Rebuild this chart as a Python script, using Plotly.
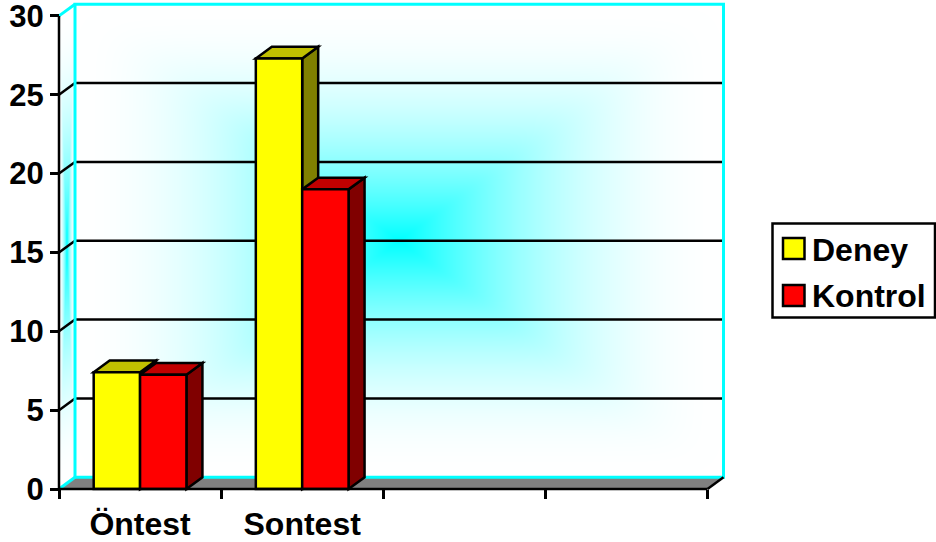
import base64
import struct
import zlib

import numpy as np
import plotly.graph_objects as go

# Chart data
categories = ["Öntest", "Sontest", " ", "  "]
deney = [7.4, 27.3]
kontrol = [7.25, 19.0]
y_ticks = [0, 5, 10, 15, 20, 25, 30]

# Page geometry (pixels)
W, H = 936, 542
PLOT_L, PLOT_R, PLOT_T, PLOT_B = 55, 728, 1, 493
FRONT_L, FRONT_B = 59, 489
CAT_PX = 162.125
UNIT_PX = 15.77
DEPTH_X_PX, DEPTH_Y_PX = 16, 11.7

# Depth of the pseudo-3D box, in axis units
DX = DEPTH_X_PX / CAT_PX
DY = DEPTH_Y_PX / UNIT_PX
X0 = -0.5
X1 = 3.5
Y_TOP = 30
BAR_W = 0.286

x_range = [X0 - (FRONT_L - PLOT_L) / CAT_PX, X0 + (PLOT_R - FRONT_L) / CAT_PX]
y_range = [-(PLOT_B - FRONT_B) / UNIT_PX, (FRONT_B - PLOT_T) / UNIT_PX]

INK = "#000000"
YELLOW, YELLOW_TOP, YELLOW_SIDE = "#FFFF00", "#C0C000", "#808000"
RED, RED_TOP, RED_SIDE = "#FF0000", "#C00000", "#800000"
CYAN = "#00FFFF"
FONT = "Liberation Sans"


def fade(u, v):
    """White share of the cyan centre-out fill for normalised offsets u, v."""
    t = np.clip((np.abs(u) ** 14 + np.abs(v) ** 14) ** (1 / 14), 0, 1)
    return 1 - (1 - t) ** 2.0


def wall_fill_png():
    """Paint the back and left walls into an RGB image and return it as a data URI."""
    w = int(round(PLOT_R - PLOT_L))
    h = int(round(PLOT_B - PLOT_T))
    px = PLOT_L + np.arange(w)[None, :] + 0.5
    py = PLOT_T + np.arange(h)[:, None] + 0.5
    share = np.ones((h, w))

    # Back wall
    bl, br = FRONT_L + DEPTH_X_PX, FRONT_L + CAT_PX * 4 + DEPTH_X_PX
    bb, bt = FRONT_B - DEPTH_Y_PX, FRONT_B - UNIT_PX * 30 - DEPTH_Y_PX
    u = (px - (bl + br) / 2) / ((br - bl) / 2)
    v = (py - (bt + bb) / 2) / ((bb - bt) / 2)
    inside = (px >= bl) & (px <= br) & (py >= bt) & (py <= bb)
    share[inside] = fade(u, v)[inside]

    # Left wall, sheared along the depth direction
    s = (px - FRONT_L) / DEPTH_X_PX
    sy = py + s * DEPTH_Y_PX
    u = 2 * s - 1
    v = (sy - (FRONT_B - UNIT_PX * 15)) / (UNIT_PX * 15)
    inside = (s >= 0) & (s <= 1) & (np.abs(v) <= 1)
    share[inside] = fade(u, v)[inside]

    red = (255 * share).astype(np.uint8)
    full = np.full_like(red, 255)
    rgb = np.dstack([red, full, full])
    raw = b"".join(b"\x00" + row.tobytes() for row in rgb)

    def chunk(tag, body):
        return (struct.pack(">I", len(body)) + tag + body
                + struct.pack(">I", zlib.crc32(tag + body) & 0xFFFFFFFF))

    png = (b"\x89PNG\r\n\x1a\n"
           + chunk(b"IHDR", struct.pack(">IIBBBBB", w, h, 8, 2, 0, 0, 0))
           + chunk(b"IDAT", zlib.compress(raw, 9))
           + chunk(b"IEND", b""))
    return "data:image/png;base64," + base64.b64encode(png).decode()


def poly(points, fill=None, line=INK, width=2.5, layer="between"):
    path = "M" + "L".join(f"{x},{y}" for x, y in points) + "Z"
    return dict(type="path", path=path, xref="x", yref="y", layer=layer,
                fillcolor=fill if fill else "rgba(0,0,0,0)",
                line=dict(color=line, width=width))


def seg(x0, y0, x1, y1, color=INK, width=2.5, layer="between"):
    return dict(type="line", xref="x", yref="y", x0=x0, y0=y0, x1=x1, y1=y1,
                layer=layer, line=dict(color=color, width=width))


def paper_x(px):
    return (px - PLOT_L) / (PLOT_R - PLOT_L)


def paper_y(py):
    return (PLOT_B - py) / (PLOT_B - PLOT_T)


def paper_rect(x0, y0, x1, y1, fill, width):
    return dict(type="rect", xref="paper", yref="paper", x0=paper_x(x0), x1=paper_x(x1),
                y0=paper_y(y0), y1=paper_y(y1), fillcolor=fill, layer="above",
                line=dict(color=INK, width=width))


shapes = []

# Floor
shapes.append(poly([(X0, 0), (X1, 0), (X1 + DX, DY), (X0 + DX, DY)], fill="#808080", line="#808080", width=0))

# Gridlines on the back wall, each with its slanted stub on the left wall
for tick in y_ticks[1:-1]:
    shapes.append(seg(X0, tick, X0 + DX, tick + DY))
    shapes.append(seg(X0 + DX, tick + DY, X1 + DX, tick + DY))

# Cyan outline of the walls
shapes.append(poly([(X0 + DX, DY), (X1 + DX, DY), (X1 + DX, Y_TOP + DY), (X0 + DX, Y_TOP + DY)], line=CYAN, width=3))
shapes.append(seg(X0, Y_TOP, X0 + DX, Y_TOP + DY, color=CYAN, width=3))
shapes.append(seg(X0, 0, X0 + DX, DY, color=CYAN, width=3))
shapes.append(seg(X1, 0, X1 + DX, DY))

# Top and side faces of the bars, back to front, from the same values as the bars
for i in range(len(deney)):
    for offset, value, top, side in (
        (-BAR_W, deney[i], YELLOW_TOP, YELLOW_SIDE),
        (0, kontrol[i], RED_TOP, RED_SIDE),
    ):
        left = i + offset
        right = left + BAR_W
        shapes.append(poly([(right, 0), (right + DX, DY), (right + DX, value + DY), (right, value)], fill=side))
        shapes.append(poly([(left, value), (left + DX, value + DY), (right + DX, value + DY), (right, value)], fill=top))

# Front axis lines
shapes.append(seg(X0, 0, X0, Y_TOP, layer="above"))
shapes.append(seg(X0, 0, X1, 0, layer="above"))

# Legend
shapes.append(paper_rect(772.5, 223.5, 935, 317.5, "#FFFFFF", 2.5))
shapes.append(paper_rect(783, 238, 804.5, 259, YELLOW, 2.5))
shapes.append(paper_rect(783, 285, 804.5, 306, RED, 2.5))

annotations = [
    dict(text=name, xref="paper", yref="paper", x=paper_x(809.5), y=paper_y(py), xanchor="left",
         yanchor="middle", showarrow=False, font=dict(family=FONT, size=32, color=INK, weight=700))
    for name, py in (("Deney", 249.5), ("Kontrol", 295.5))
]

fig = go.Figure()
fig.add_bar(x=categories[:2], y=deney, name="Deney", marker=dict(color=YELLOW, line=dict(color=INK, width=2.5)))
fig.add_bar(x=categories[:2], y=kontrol, name="Kontrol", marker=dict(color=RED, line=dict(color=INK, width=2.5)))

fig.update_layout(
    width=W, height=H,
    margin=dict(l=PLOT_L, r=W - PLOT_R, t=PLOT_T, b=H - PLOT_B, pad=0, autoexpand=False),
    paper_bgcolor="#FFFFFF", plot_bgcolor="rgba(0,0,0,0)",
    barmode="group", bargap=1 - 2 * BAR_W, bargroupgap=0,
    showlegend=False,
    shapes=shapes, annotations=annotations,
    images=[dict(source=wall_fill_png(), xref="paper", yref="paper", x=0, y=1, sizex=1, sizey=1,
                 xanchor="left", yanchor="top", sizing="stretch", layer="below")],
)
fig.update_xaxes(
    type="category", categoryorder="array", categoryarray=categories,
    tickmode="array", tickvals=categories, ticktext=categories,
    range=x_range, tickson="boundaries", ticks="outside", ticklen=9, tickwidth=2.5, tickcolor=INK,
    ticklabelstandoff=13, automargin=False,
    tickfont=dict(family=FONT, size=32, color=INK, weight=700),
    showgrid=False, zeroline=False, showline=False,
    anchor="free", position=(PLOT_B - FRONT_B) / (PLOT_B - PLOT_T),
)
fig.update_yaxes(
    range=y_range, tickmode="array", tickvals=y_ticks, ticks="outside", ticklen=9, tickwidth=2.5, tickcolor=INK,
    ticklabeloverflow="allow", automargin=False,
    tickfont=dict(family=FONT, size=31, color=INK, weight=700),
    showgrid=False, zeroline=False, showline=False,
    anchor="free", position=(FRONT_L - PLOT_L) / (PLOT_R - PLOT_L),
)

fig.write_html("out.html")
